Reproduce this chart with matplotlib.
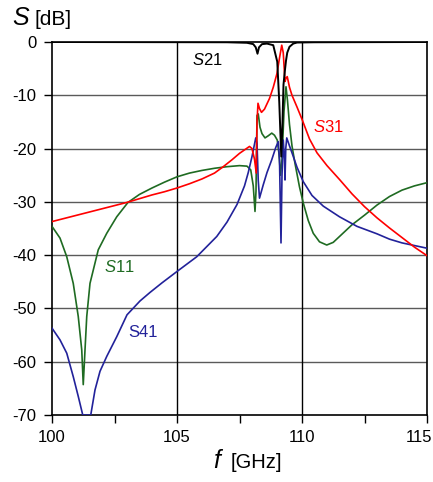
import matplotlib

matplotlib.use("Agg")

import matplotlib.pyplot as plt
from matplotlib.transforms import ScaledTranslation

plt.rcParams["font.family"] = ["Liberation Sans", "DejaVu Sans"]
plt.rcParams["axes.unicode_minus"] = False
plt.rcParams["mathtext.fontset"] = "custom"
plt.rcParams["mathtext.rm"] = "Liberation Sans"
plt.rcParams["mathtext.it"] = "Liberation Sans:italic"

# S31 (red)
f_s31 = [100.0, 100.5, 101.0, 101.5, 102.0, 102.5, 103.0, 103.5, 104.0, 104.5,
         105.0, 105.5, 106.0, 106.5, 106.85, 107.2, 107.5, 107.9, 108.0, 108.1,
         108.17, 108.2, 108.24, 108.3, 108.38, 108.5, 108.7, 108.85, 109.0, 109.1,
         109.19, 109.25, 109.32, 109.36, 109.41, 109.5, 109.6, 109.8, 110.0, 110.3,
         110.6, 111.0, 111.5, 112.0, 112.5, 113.0, 113.5, 114.0, 114.5, 115.0]
s31 = [-33.7, -33.1, -32.5, -31.9, -31.3, -30.7, -30.1, -29.4, -28.7, -28.1,
       -27.4, -26.6, -25.7, -24.6, -23.4, -22.1, -20.9, -19.6, -20.0, -22.0,
       -24.6, -15.0, -11.5, -12.5, -13.2, -12.6, -10.6, -8.5, -5.9, -3.0,
       -0.6, -2.0, -7.4, -6.8, -6.5, -8.5, -10.0, -12.2, -14.5, -18.2,
       -20.8, -23.2, -25.8, -28.5, -30.9, -33.0, -34.9, -36.7, -38.5, -40.1]

# S11 (green)
f_s11 = [100.0, 100.32, 100.59, 100.85, 101.05, 101.19, 101.25, 101.32, 101.39, 101.52,
         101.85, 102.19, 102.59, 103.04, 103.5, 104.0, 104.5, 105.0, 105.5, 106.0,
         106.5, 107.0, 107.5, 107.8, 107.95, 108.05, 108.12, 108.16, 108.2, 108.25,
         108.32, 108.4, 108.52, 108.65, 108.79, 108.9, 109.01, 109.08, 109.14, 109.2,
         109.28, 109.36, 109.42, 109.5, 109.6, 109.72, 109.9, 110.05, 110.25, 110.45,
         110.7, 110.99, 111.25, 111.5, 112.0, 112.5, 113.0, 113.5, 114.0, 114.5,
         115.0]
s11 = [-34.6, -36.8, -40.3, -45.3, -51.5, -57.8, -64.3, -57.8, -51.5, -45.3,
       -39.0, -35.9, -32.8, -30.1, -28.6, -27.4, -26.3, -25.3, -24.6, -24.1,
       -23.7, -23.4, -23.2, -23.3, -24.0, -27.0, -31.8, -28.0, -13.8, -13.5,
       -16.0, -17.2, -18.0, -17.6, -17.1, -17.5, -18.4, -21.0, -25.0, -22.0,
       -13.0, -8.4, -11.0, -15.5, -19.5, -22.8, -27.2, -30.2, -33.5, -35.9,
       -37.5, -38.1, -37.6, -36.5, -34.3, -32.5, -30.6, -29.0, -27.8, -27.0,
       -26.4]

# S41 (blue)
f_s41 = [100.0, 100.32, 100.59, 100.85, 101.05, 101.23, 101.55, 101.72, 101.92, 102.19,
         102.59, 103.0, 103.52, 103.92, 104.4, 104.99, 105.79, 106.59, 107.0, 107.4,
         107.7, 107.85, 108.0, 108.15, 108.2, 108.25, 108.3, 108.45, 108.6, 108.79,
         108.95, 109.05, 109.1, 109.16, 109.2, 109.25, 109.3, 109.32, 109.35, 109.39,
         109.5, 109.6, 109.8, 110.05, 110.4, 110.85, 111.5, 112.2, 113.0, 113.5,
         114.0, 114.5, 115.0]
s41 = [-53.7, -55.9, -58.4, -62.8, -66.5, -70.0, -70.0, -65.3, -61.8, -59.0,
       -55.3, -51.2, -48.6, -47.0, -45.2, -43.1, -40.3, -36.5, -33.8, -30.5,
       -27.0, -24.5, -21.5, -18.0, -19.0, -26.0, -29.3, -26.8, -24.5, -22.1,
       -19.8, -18.7, -22.0, -37.7, -25.0, -18.4, -22.0, -25.9, -20.0, -18.0,
       -19.5, -20.8, -23.5, -26.2, -28.8, -30.8, -32.8, -34.6, -36.0, -37.0,
       -37.7, -38.2, -38.7]

# S21 (black)
f_s21 = [100.0, 107.0, 107.8, 108.05, 108.15, 108.22, 108.28, 108.4, 108.6, 108.85,
         109.01, 109.09, 109.17, 109.22, 109.26, 109.31, 109.36, 109.41, 109.5, 109.65,
         109.8, 110.5, 115.0]
s21 = [0.0, -0.05, -0.15, -0.4, -1.0, -2.2, -1.0, -0.4, -0.3, -0.6,
       -3.7, -11.2, -21.5, -15.0, -8.0, -5.6, -3.5, -2.0, -0.9, -0.3,
       -0.1, -0.05, 0.0]

x_ticks = [100, 102.5, 105, 107.5, 110, 112.5, 115]
x_tick_labels = ["100", "", "105", "", "110", "", "115"]
y_ticks = [0, -10, -20, -30, -40, -50, -60, -70]

figure = plt.figure(figsize=(4.33, 4.82), dpi=100)
axis = figure.add_axes([52 / 433, 67 / 482, 375 / 433, 373 / 482])

for level in y_ticks[1:-1]:
    axis.axhline(level, color="#5a5a5a", linewidth=1.0, zorder=1)
for freq in (105, 110):
    axis.axvline(freq, color="black", linewidth=1.0, zorder=1)

axis.plot(f_s11, s11, color="#1f6b22", linewidth=1.2, zorder=3)
axis.plot(f_s41, s41, color="#22229a", linewidth=1.2, zorder=3)
axis.plot(f_s31, s31, color="#ff0000", linewidth=1.2, zorder=4)
axis.plot(f_s21, s21, color="black", linewidth=1.4, zorder=5)

axis.set_xlim(100, 115)
axis.set_ylim(-70, 0)
axis.set_xticks(x_ticks)
axis.set_xticklabels(x_tick_labels)
axis.set_yticks(y_ticks)
axis.tick_params(direction="out", length=6, width=1.0, labelsize=12, pad=5)
for spine in axis.spines.values():
    spine.set_linewidth(1.2)

# the last label sits inside the figure edge
last_label = axis.get_xticklabels()[-1]
last_label.set_horizontalalignment("right")
last_label.set_transform(
    last_label.get_transform() + ScaledTranslation(5 / 100, 0, figure.dpi_scale_trans)
)

axis.text(105.6, -3.4, "$S$21", color="black", fontsize=12, va="center")
axis.text(110.44, -15.9, "$S$31", color="#ff0000", fontsize=12, va="center")
axis.text(102.08, -42.2, "$S$11", color="#1f6b22", fontsize=12, va="center")
axis.text(103.04, -54.6, "S41", color="#22229a", fontsize=12, va="center")

figure.text(12 / 433, 1 - 25 / 482, "S", fontsize=18, style="italic", va="baseline")
figure.text(34 / 433, 1 - 25 / 482, "[dB]", fontsize=15, va="baseline")
figure.text(213 / 433, 1 - 468.5 / 482, "f", fontsize=18, style="italic", va="baseline")
figure.text(231 / 433, 1 - 468.5 / 482, "[GHz]", fontsize=14.5, va="baseline")

figure.savefig("out.png", dpi=100)
plt.close(figure)
